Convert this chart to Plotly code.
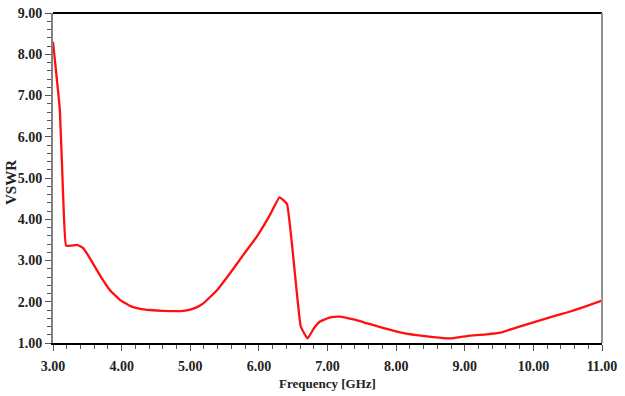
import plotly.graph_objects as go

freq = [3.00, 3.10, 3.15, 3.19, 3.27, 3.35, 3.44, 3.51, 3.61, 3.71, 3.83, 3.98,
        4.12, 4.27, 4.41, 4.61, 4.90, 5.00, 5.10, 5.19, 5.39, 5.58, 5.77, 5.97, 6.16,
        6.30, 6.41, 6.61, 6.71, 6.80, 6.89, 7.04, 7.18, 7.38, 7.57, 7.82, 8.06, 8.30,
        8.54, 8.79, 8.93, 9.08, 9.32, 9.52, 9.76, 10.00, 10.24, 10.49, 10.73, 11.00]
vswr = [8.30, 6.65, 4.47, 3.36, 3.36, 3.38, 3.30, 3.13, 2.85, 2.57, 2.28, 2.04,
        1.90, 1.83, 1.80, 1.78, 1.78, 1.81, 1.87, 1.96, 2.28, 2.69, 3.13, 3.58, 4.10,
        4.53, 4.37, 1.40, 1.11, 1.35, 1.52, 1.62, 1.64, 1.57, 1.48, 1.36, 1.26, 1.19,
        1.14, 1.11, 1.14, 1.18, 1.21, 1.25, 1.38, 1.50, 1.62, 1.74, 1.87, 2.03]

x_ticks = [3, 4, 5, 6, 7, 8, 9, 10, 11]
y_ticks = [1, 2, 3, 4, 5, 6, 7, 8, 9]

font = dict(family="Liberation Serif", size=14, color="#222222")

fig = go.Figure(go.Scatter(x=freq, y=vswr, mode="lines",
                           line=dict(color="#ff1010", width=2.3, shape="spline", smoothing=0.3)))

fig.update_layout(
    width=625, height=396,
    margin=dict(l=53, r=23, t=13, b=53),
    plot_bgcolor="white", paper_bgcolor="white",
    showlegend=False,
    font=font,
    xaxis=dict(range=[3, 11], tickvals=x_ticks,
               ticktext=[f"<b>{v:.2f}</b>" for v in x_ticks],
               showgrid=False, zeroline=False, automargin=False,
               showline=True, linecolor="black", linewidth=2,
               ticks="outside", ticklen=6, tickcolor="#555555", tickwidth=1,
               ticklabelstandoff=3,
               minor=dict(dtick=0.2, tick0=3, ticks="outside", ticklen=4, tickcolor="#555555"),
               title=dict(text="<b>Frequency [GHz]</b>", standoff=6, font=dict(size=13))),
    yaxis=dict(range=[1, 9], tickvals=y_ticks,
               ticktext=[f"<b>{v:.2f}</b>" for v in y_ticks],
               showgrid=False, zeroline=False, automargin=False,
               showline=True, linecolor="#808080", linewidth=2,
               ticks="outside", ticklen=6, tickcolor="#555555", tickwidth=1,
               minor=dict(dtick=0.2, tick0=1, ticks="outside", ticklen=4, tickcolor="#555555")),
    annotations=[
        dict(text="<b>VSWR</b>", textangle=-90, showarrow=False,
             xref="paper", yref="paper", x=(11 - 53) / 549, y=(343 - 183) / 330,
             xanchor="center", yanchor="middle", font=dict(size=15)),
    ],
    shapes=[
        dict(type="line", xref="paper", yref="paper", x0=0, x1=1, y0=1, y1=1,
             line=dict(color="black", width=2)),
        dict(type="line", xref="paper", yref="paper", x0=1, x1=1, y0=0, y1=1,
             line=dict(color="#909090", width=2)),
    ],
)

fig.write_html("out.html")
